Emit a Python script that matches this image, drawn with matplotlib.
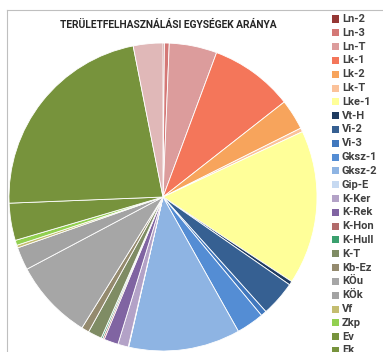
import matplotlib
matplotlib.use("Agg")
import matplotlib.pyplot as plt
from matplotlib.lines import Line2D
from matplotlib.patches import Rectangle

# területfelhasználási egységek, százalékos arány
labels = ["Ln-2", "Ln-3", "Ln-T", "Lk-1", "Lk-2", "Lk-T", "Lke-1", "Vt-H", "Vi-2", "Vi-3",
          "Gksz-1", "Gksz-2", "Gip-E", "K-Ker", "K-Rek", "K-Hon", "K-Hull", "K-T", "Kb-Ez",
          "KÖu", "KÖk", "Vf", "Zkp", "Ev", "Ek", "Má"]
shares = [0.15, 0.50, 5.0, 8.75, 3.2, 0.4, 16.2, 0.4, 3.7, 0.6,
          2.9, 11.7, 0.05, 1.1, 1.5, 0.17, 0.17, 1.45, 0.8,
          8.4, 2.4, 0.28, 0.53, 3.9, 22.5, 3.1]
colors = ["#953735", "#d47876", "#dc9c9c", "#f4765a", "#f7a45c", "#fbc29a", "#ffff99",
          "#1f3b60", "#366092", "#4178be", "#548dd4", "#8eb4e3", "#c6d9f1", "#b3a2c7",
          "#8064a2", "#b26b6b", "#3aa06e", "#7f8c64", "#948a6e", "#a6a6a6", "#a3a3a3",
          "#c4bd70", "#92d050", "#77933c", "#77933c", "#e0b8b8"]

W, H = 383, 352
fig = plt.figure(figsize=(W / 100, H / 100), dpi=100)

font = ["Roboto", "DejaVu Sans"]

# pie: center (163, 197) px, radius 154 px
cx, cy, r = 163, 197, 154
ax = fig.add_axes([(cx - r) / W, (H - cy - r) / H, 2 * r / W, 2 * r / H])
ax.pie(shares, colors=colors, startangle=90, counterclock=False,
       wedgeprops=dict(edgecolor="white", linewidth=0.6))
ax.set_xlim(-1, 1)
ax.set_ylim(-1, 1)
ax.set_aspect("auto")
ax.axis("off")

# chart area border (top and left edges)
fig.add_artist(Line2D([7 / W, 1], [1 - 10 / H, 1 - 10 / H], color="#bfbfbf", lw=0.8))
fig.add_artist(Line2D([7 / W, 7 / W], [1 - 10 / H, 0], color="#bfbfbf", lw=0.8))

fig.text(168 / W, 1 - 24.5 / H, "TERÜLETFELHASZNÁLÁSI EGYSÉGEK ARÁNYA",
         ha="center", va="center", fontsize=7.4, fontweight="bold",
         family=font, color="#262626")

# legend
for i, (lab, col) in enumerate(zip(labels, colors)):
    y = 19 + i * 13.81
    fig.add_artist(Rectangle((332 / W, 1 - (y + 3.5) / H), 7 / W, 7 / H,
                             facecolor=col, edgecolor="none"))
    fig.text(342 / W, 1 - y / H, lab, ha="left", va="center", fontsize=8,
             fontweight="bold", family=font, color="#404040")

fig.savefig("out.png", dpi=100)
